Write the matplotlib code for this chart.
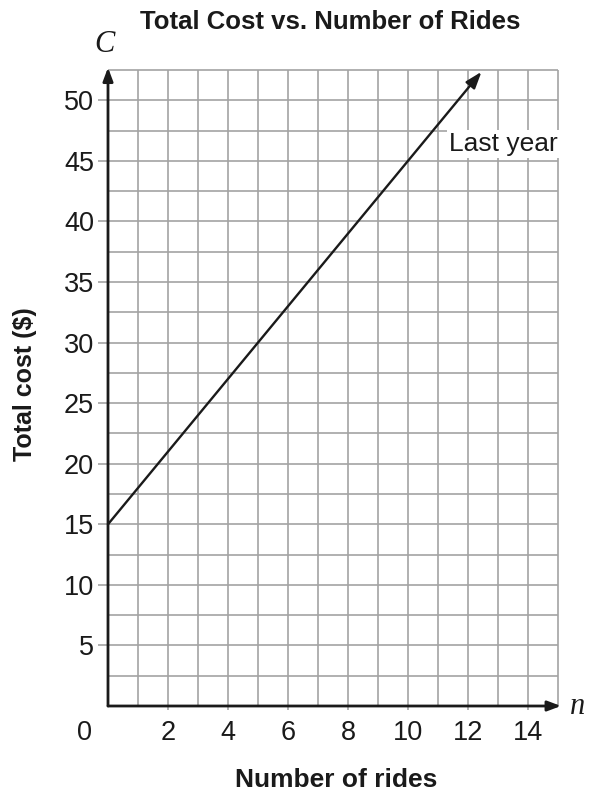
import matplotlib
matplotlib.use('Agg')
import matplotlib.pyplot as plt
import numpy as np

plt.rcParams['font.family'] = ['Liberation Sans', 'DejaVu Sans']

# ------------------------------------------------------------
# Data
# ------------------------------------------------------------
rides = [0, 12.45]          # n
cost = [15.0, 52.35]        # C = 15 + 3n
x_ticks = [2, 4, 6, 8, 10, 12, 14]
y_ticks = [5, 10, 15, 20, 25, 30, 35, 40, 45, 50]
x_grid = np.arange(1, 16, 1)
y_grid = np.arange(2.5, 53, 2.5)

grid_gray = '#a3a3a3'
ink = '#1a1a1a'

fig = plt.figure(figsize=(5.89, 7.95), dpi=100)
ax = fig.add_axes([108 / 589, 89 / 795, 450 / 589, 636 / 795])
ax.set_xlim(0, 15)
ax.set_ylim(0, 52.5)

for s in ax.spines.values():
    s.set_visible(False)

# grid
ax.vlines(x_grid, 0, 52.5, color=grid_gray, lw=1.2, zorder=1, clip_on=False)
ax.hlines(y_grid, 0, 15, color=grid_gray, lw=1.2, zorder=1, clip_on=False)

# ticks
ax.set_xticks(x_ticks)
ax.set_yticks(y_ticks)
ax.tick_params(axis='y', length=7, width=1.2, color=grid_gray, pad=3,
               labelsize=19.5, labelcolor=ink)
ax.tick_params(axis='x', length=3, width=1.2, color=grid_gray, pad=7,
               labelsize=19.5, labelcolor=ink)
ax.annotate('0', xy=(0, 0), xytext=(-23, -27), textcoords='offset pixels',
            ha='center', va='center', fontsize=19.5, color=ink)

# axes with arrows
for tip in [(15.1, 0), (0, 52.7)]:
    ax.annotate('', xy=tip, xytext=(0, 0),
                arrowprops=dict(arrowstyle='-|>,head_length=0.8,head_width=0.3',
                                color=ink, lw=2, shrinkA=0, shrinkB=0),
                annotation_clip=False, zorder=4)

# the line
ax.annotate('', xy=(rides[1], cost[1]), xytext=(rides[0], cost[0]),
            arrowprops=dict(arrowstyle='-|>,head_length=1.0,head_width=0.35',
                            color=ink, lw=1.7, shrinkA=0, shrinkB=0),
            annotation_clip=False, zorder=3)

ax.text(13.17, 46.4, 'Last year', ha='center', va='center', fontsize=19, zorder=5,
        color=ink, bbox=dict(facecolor='white', edgecolor='none', pad=1.5))

# variable names
ax.text(-0.13, 54.6, 'C', family='Liberation Serif', style='italic', fontsize=22,
        ha='center', va='center', color=ink)
ax.text(15.65, 0.0, 'n', family='Liberation Serif', style='italic', fontsize=22,
        ha='center', va='center', clip_on=False, color=ink)

fig.text(330 / 589, 1 - 22 / 795, 'Total Cost vs. Number of Rides', ha='center', va='center',
         fontsize=18.5, fontweight='bold', color=ink)
fig.text(336 / 589, 1 - 780 / 795, 'Number of rides', ha='center', va='center',
         fontsize=19, fontweight='bold', color=ink)
fig.text(25 / 589, 1 - 384 / 795, 'Total cost ($)', ha='center', va='center',
         fontsize=18, fontweight='bold', rotation=90, color=ink)

fig.savefig('out.png', dpi=100)
